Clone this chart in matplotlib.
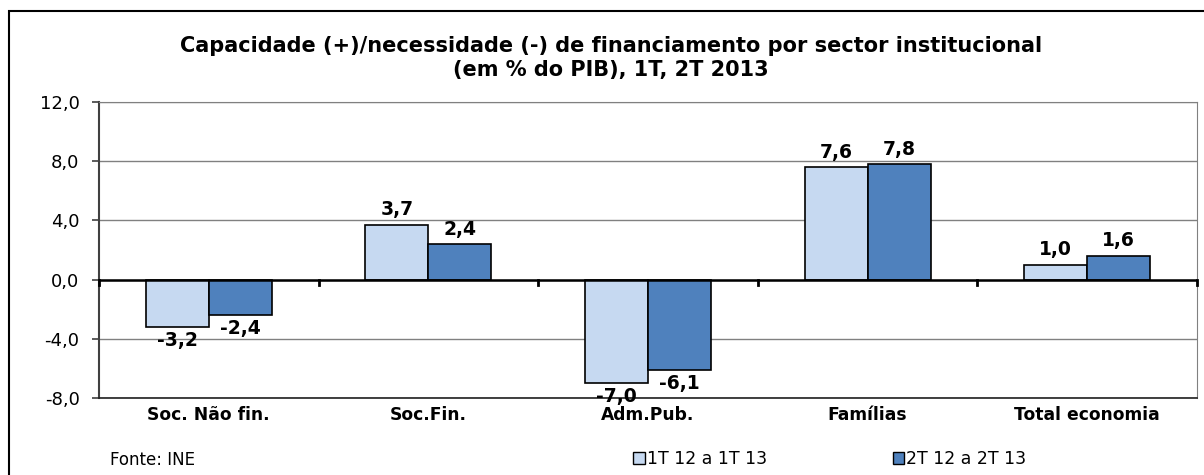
import matplotlib.pyplot as plt
import numpy as np
from matplotlib.patches import Rectangle, Patch

categories = ['Soc. Não fin.', 'Soc.Fin.', 'Adm.Pub.', 'Famílias', 'Total economia']
q1 = [-3.2, 3.7, -7.0, 7.6, 1.0]
q2 = [-2.4, 2.4, -6.1, 7.8, 1.6]
labels = ['1T 12 a 1T 13', '2T 12 a 2T 13']
yticks = [-8, -4, 0, 4, 8, 12]

c1 = '#C6D9F1'
c2 = '#4F81BD'

plt.rcParams['font.family'] = ['Verdana', 'DejaVu Sans']

fig = plt.figure(figsize=(12.04, 4.75), dpi=100)
W, H = 1204, 475
ax = fig.add_axes([99 / W, 1 - 398 / H, (1197 - 99) / W, (398 - 102) / H])

# outer frame
fig.patches.append(Rectangle((9 / W, -0.1), 1.2, 1 - 11 / H + 0.1, transform=fig.transFigure,
                             fill=False, edgecolor='black', linewidth=1.5))

x = np.arange(len(categories))
w = 0.287
b1 = ax.bar(x - w / 2, q1, w, color=c1, edgecolor='black', linewidth=1.2, zorder=3)
b2 = ax.bar(x + w / 2, q2, w, color=c2, edgecolor='black', linewidth=1.2, zorder=3)

for bars, vals in ((b1, q1), (b2, q2)):
    for r, v in zip(bars, vals):
        off = 4 if v >= 0 else -3
        ax.annotate(f'{v:.1f}'.replace('.', ','), (r.get_x() + r.get_width() / 2, v),
                    xytext=(0, off), textcoords='offset points', ha='center',
                    va='bottom' if v >= 0 else 'top', fontsize=13.5, fontweight='bold',
                    zorder=5)

ax.set_xlim(-0.5, len(categories) - 0.5)
ax.set_ylim(-8, 12)
ax.set_yticks(yticks)
ax.set_yticklabels([f'{t:.1f}'.replace('.', ',') for t in yticks], fontsize=13)
ax.set_xticks(x)
ax.set_xticklabels(categories, fontsize=12.3, fontweight='bold')
ax.tick_params(axis='x', length=0, pad=6)
ax.tick_params(axis='y', length=5, width=1.2, color='#404040', pad=9)
ax.grid(axis='y', color='#808080', linewidth=1, zorder=0)

for s in ('top', 'right'):
    ax.spines[s].set_color('#808080')
ax.spines['left'].set_color('#404040')
ax.spines['left'].set_linewidth(1.5)
ax.spines['bottom'].set_color('#202020')
ax.spines['bottom'].set_linewidth(1.2)

# zero line with category separators
ax.axhline(0, color='black', linewidth=1.8, zorder=4)
for b in np.arange(-0.5, len(categories), 1.0):
    ax.plot([b, b], [0, -0.35], color='black', linewidth=2, zorder=4, clip_on=False)

fig.text(611 / W, 1 - 58 / H,
         'Capacidade (+)/necessidade (-) de financiamento por sector institucional\n(em % do PIB), 1T, 2T 2013',
         ha='center', va='center', fontsize=15, fontweight='bold', linespacing=1.25)

fig.text(110 / W, 1 - 460 / H, 'Fonte: INE', fontsize=12, va='center')

leg = fig.legend([Patch(facecolor=c1, edgecolor='black'), Patch(facecolor=c2, edgecolor='black')],
                 labels, loc='center', bbox_to_anchor=(830 / W, 1 - 459 / H), ncol=2,
                 frameon=False, fontsize=12.5, handlelength=0.65, handleheight=0.65,
                 handletextpad=0.15, columnspacing=7.2)

fig.savefig('out.png', dpi=100)
